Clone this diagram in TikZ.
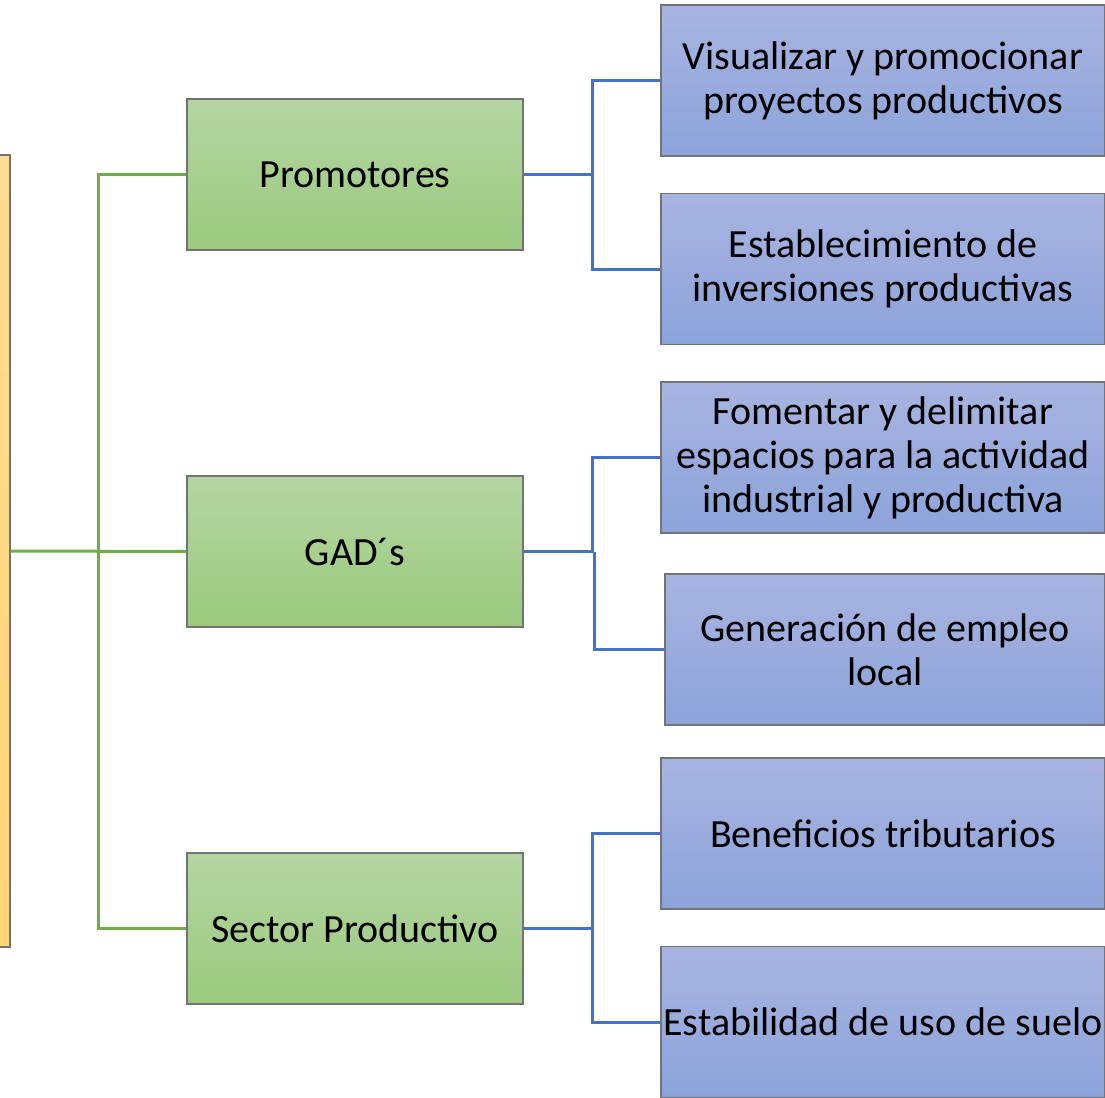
\documentclass[tikz,border=0pt]{standalone}
\usepackage{fontspec}
\setmainfont{Carlito}
\begin{document}
\begin{tikzpicture}[x=1pt,y=-1pt,
  base/.style={draw=black!55, line width=1.2pt, inner sep=0pt, align=center,
    font=\fontsize{40}{44}\selectfont, text=black},
  gbox/.style={base, top color=green1, bottom color=green2,
    minimum width=336pt, minimum height=151pt},
  bbox/.style={base, top color=blue1, bottom color=blue2,
    minimum width=444pt, minimum height=151pt},
  obox/.style={base, top color=orange1, bottom color=orange2},
  gline/.style={draw=lgreen, line width=3pt},
  bline/.style={draw=lblue, line width=3pt}]
\definecolor{green1}{HTML}{B4D5A2}
\definecolor{green2}{HTML}{9BCA7E}
\definecolor{blue1}{HTML}{A8B4E0}
\definecolor{blue2}{HTML}{8CA3DA}
\definecolor{orange1}{HTML}{FFDB94}
\definecolor{orange2}{HTML}{FFD575}
\definecolor{lgreen}{HTML}{70AD47}
\definecolor{lblue}{HTML}{4472C4}
\useasboundingbox (0,0) rectangle (1105,1097);
\clip (0,0) rectangle (1105,1097);
% root (partially visible)
\node[obox, minimum width=120pt, minimum height=792pt] (root) at (-50,551) {};
% level 1
\node[gbox] (p) at (355,174.5) {Promotores};
\node[gbox] (g) at (355,551.5) {GAD´s};
\node[gbox] (s) at (355,928.5) {Sector Productivo};
% level 2
\node[bbox] (p1) at (883,80.5) {Visualizar y promocionar\\proyectos productivos};
\node[bbox] (p2) at (883,269) {Establecimiento de\\inversiones productivas};
\node[bbox] (g1) at (883,457.5) {Fomentar y delimitar\\espacios para la actividad\\industrial y productiva};
\node[bbox, minimum width=440pt] (g2) at (885,649.5) {Generación de empleo\\local};
\node[bbox] (s1) at (883,833.5) {Beneficios tributarios};
\node[bbox] (s2) at (883,1022) {Estabilidad de uso de suelo};
% green connectors
\coordinate (trunk) at (98,551);
\draw[gline] (root.east |- trunk) -- (g.west);
\draw[gline] (p.west) -| (trunk |- s.west) -- (s.west);
% blue connectors
\draw[bline] (p.east) -- (592,174.5);
\draw[bline] (p1.west) -| (592,174.5) |- (p2.west);
\draw[bline] (g.east) -- (594,551.5);
\draw[bline] (g1.west) -| (592,551.5);
\draw[bline] (594,551.5) |- (g2.west);
\draw[bline] (s.east) -- (592,928.5);
\draw[bline] (s1.west) -| (592,928.5) |- (s2.west);
\end{tikzpicture}
\end{document}
